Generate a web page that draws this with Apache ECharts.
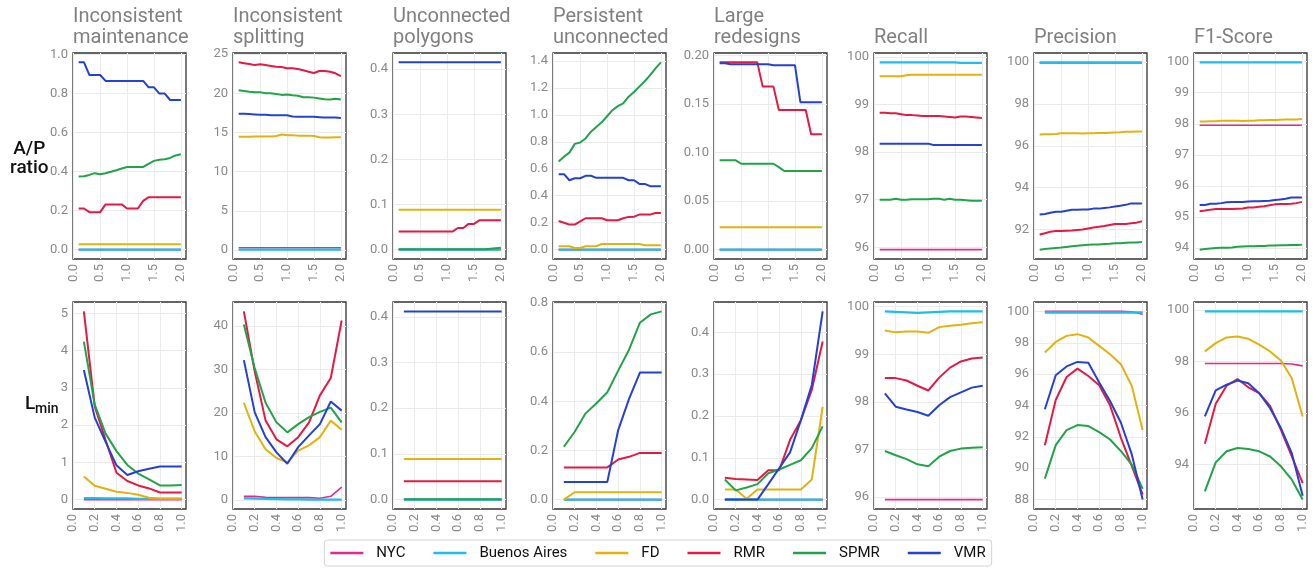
<!DOCTYPE html>
<html>
<head>
<meta charset="utf-8">
<script src="https://cdn.jsdelivr.net/npm/echarts@6/dist/echarts.min.js"></script>
<style>
html, body { margin: 0; padding: 0; background: #fff; }
#chart { width: 1316px; height: 570px; }
</style>
</head>
<body>
<div id="chart"></div>
<script>
// series order: NYC, Buenos Aires, FD, RMR, SPMR, VMR
var methods = ['NYC', 'Buenos Aires', 'FD', 'RMR', 'SPMR', 'VMR'];
var methodColors = ['#df2a8e', '#1dbfe9', '#e2b20e', '#e31a43', '#22a34a', '#2541d4'];

var sigmaValues = [0.1, 0.2, 0.3, 0.4, 0.5, 0.6, 0.7, 0.8, 0.9, 1.0, 1.1, 1.2, 1.3, 1.4, 1.5, 1.6, 1.7, 1.8, 1.9, 2.0];
var lminValues = [0.1, 0.2, 0.3, 0.4, 0.5, 0.6, 0.7, 0.8, 0.9, 1.0];
var sigmaTicks = ['0.0', '0.5', '1.0', '1.5', '2.0'];
var lminXTicks = ['0.0', '0.2', '0.4', '0.6', '0.8', '1.0'];

var panelTitles = ['Inconsistent\nmaintenance', 'Inconsistent\nsplitting', 'Unconnected\npolygons', 'Persistent\nunconnected',
	'Large\nredesigns', 'Recall', 'Precision', 'F1-Score'];

// A/P ratio row (x = sigmaValues)
var apMaintenance = [
	[0, 0, 0, 0, 0, 0, 0, 0, 0, 0, 0, 0, 0, 0, 0, 0, 0, 0, 0, 0],
	[0, 0, 0, 0, 0, 0, 0, 0, 0, 0, 0, 0, 0, 0, 0, 0, 0, 0, 0, 0],
	[0.027, 0.027, 0.027, 0.027, 0.027, 0.027, 0.027, 0.027, 0.027, 0.027, 0.027, 0.027, 0.027, 0.027, 0.027, 0.027, 0.027, 0.027, 0.027, 0.027],
	[0.211, 0.211, 0.192, 0.192, 0.192, 0.232, 0.232, 0.232, 0.232, 0.211, 0.211, 0.211, 0.25, 0.269, 0.269, 0.269, 0.269, 0.269, 0.269, 0.269],
	[0.375, 0.376, 0.383, 0.392, 0.387, 0.392, 0.399, 0.407, 0.416, 0.424, 0.424, 0.424, 0.424, 0.44, 0.455, 0.461, 0.463, 0.47, 0.483, 0.489],
	[0.96, 0.96, 0.895, 0.895, 0.895, 0.865, 0.865, 0.865, 0.865, 0.865, 0.865, 0.865, 0.865, 0.832, 0.832, 0.80, 0.80, 0.767, 0.767, 0.767]
];
var apSplitting = [
	[0.3, 0.3, 0.3, 0.3, 0.3, 0.3, 0.3, 0.3, 0.3, 0.3, 0.3, 0.3, 0.3, 0.3, 0.3, 0.3, 0.3, 0.3, 0.3, 0.3],
	[0.05, 0.05, 0.05, 0.05, 0.05, 0.05, 0.05, 0.05, 0.05, 0.05, 0.05, 0.05, 0.05, 0.05, 0.05, 0.05, 0.05, 0.05, 0.05, 0.05],
	[14.45, 14.45, 14.45, 14.5, 14.5, 14.5, 14.5, 14.55, 14.75, 14.65, 14.65, 14.6, 14.6, 14.6, 14.55, 14.4, 14.35, 14.35, 14.4, 14.4],
	[23.95, 23.85, 23.75, 23.6, 23.7, 23.6, 23.5, 23.4, 23.35, 23.2, 23.2, 23.1, 22.95, 22.75, 22.6, 22.85, 22.85, 22.75, 22.55, 22.2],
	[20.4, 20.3, 20.2, 20.15, 20.15, 20.0, 20.0, 19.9, 19.8, 19.85, 19.75, 19.7, 19.5, 19.5, 19.45, 19.35, 19.25, 19.2, 19.3, 19.2],
	[17.4, 17.4, 17.35, 17.3, 17.25, 17.25, 17.2, 17.2, 17.2, 17.2, 17.05, 17.0, 17.0, 17.0, 17.0, 16.95, 16.9, 16.9, 16.9, 16.85]
];
var apUnconnected = [
	[0, 0, 0, 0, 0, 0, 0, 0, 0, 0, 0, 0, 0, 0, 0, 0, 0, 0, 0, 0],
	[0, 0, 0, 0, 0, 0, 0, 0, 0, 0, 0, 0, 0, 0, 0, 0, 0, 0, 0, 0],
	[0.0885, 0.0885, 0.0885, 0.0885, 0.0885, 0.0885, 0.0885, 0.0885, 0.0885, 0.0885, 0.0885, 0.0885, 0.0885, 0.0885, 0.0885, 0.0885, 0.0885, 0.0885, 0.0885, 0.0885],
	[0.04, 0.04, 0.04, 0.04, 0.04, 0.04, 0.04, 0.04, 0.04, 0.04, 0.04, 0.048, 0.048, 0.057, 0.057, 0.065, 0.065, 0.065, 0.065, 0.065],
	[0.001, 0.001, 0.001, 0.001, 0.001, 0.001, 0.001, 0.001, 0.001, 0.001, 0.001, 0.001, 0.001, 0.001, 0.001, 0.001, 0.001, 0.002, 0.003, 0.004],
	[0.415, 0.415, 0.415, 0.415, 0.415, 0.415, 0.415, 0.415, 0.415, 0.415, 0.415, 0.415, 0.415, 0.415, 0.415, 0.415, 0.415, 0.415, 0.415, 0.415]
];
var apPersistent = [
	[0, 0, 0, 0, 0, 0, 0, 0, 0, 0, 0, 0, 0, 0, 0, 0, 0, 0, 0, 0],
	[0, 0, 0, 0, 0, 0, 0, 0, 0, 0, 0, 0, 0, 0, 0, 0, 0, 0, 0, 0],
	[0.025, 0.025, 0.025, 0.012, 0.012, 0.025, 0.025, 0.025, 0.042, 0.042, 0.042, 0.042, 0.042, 0.042, 0.042, 0.042, 0.032, 0.032, 0.032, 0.032],
	[0.213, 0.2, 0.186, 0.186, 0.21, 0.233, 0.233, 0.233, 0.233, 0.218, 0.218, 0.218, 0.233, 0.243, 0.245, 0.26, 0.26, 0.26, 0.272, 0.272],
	[0.655, 0.69, 0.72, 0.785, 0.795, 0.825, 0.875, 0.91, 0.945, 0.99, 1.035, 1.065, 1.085, 1.135, 1.17, 1.21, 1.25, 1.295, 1.345, 1.39],
	[0.56, 0.56, 0.515, 0.53, 0.53, 0.548, 0.548, 0.533, 0.533, 0.533, 0.533, 0.533, 0.533, 0.515, 0.515, 0.488, 0.488, 0.471, 0.471, 0.471]
];
var apLarge = [
	[0, 0, 0, 0, 0, 0, 0, 0, 0, 0, 0, 0, 0, 0, 0, 0, 0, 0, 0, 0],
	[0, 0, 0, 0, 0, 0, 0, 0, 0, 0, 0, 0, 0, 0, 0, 0, 0, 0, 0, 0],
	[0.023, 0.023, 0.023, 0.023, 0.023, 0.023, 0.023, 0.023, 0.023, 0.023, 0.023, 0.023, 0.023, 0.023, 0.023, 0.023, 0.023, 0.023, 0.023, 0.023],
	[0.193, 0.193, 0.193, 0.193, 0.193, 0.193, 0.193, 0.193, 0.168, 0.168, 0.168, 0.144, 0.144, 0.144, 0.144, 0.144, 0.144, 0.119, 0.119, 0.119],
	[0.092, 0.092, 0.092, 0.092, 0.0885, 0.0885, 0.0885, 0.0885, 0.0885, 0.0885, 0.0885, 0.085, 0.081, 0.081, 0.081, 0.081, 0.081, 0.081, 0.081, 0.081],
	[0.192, 0.192, 0.191, 0.191, 0.191, 0.191, 0.191, 0.191, 0.191, 0.191, 0.19, 0.19, 0.19, 0.19, 0.19, 0.152, 0.152, 0.152, 0.152, 0.152]
];
var apRecall = [
	[95.95, 95.95, 95.95, 95.95, 95.95, 95.95, 95.95, 95.95, 95.95, 95.95, 95.95, 95.95, 95.95, 95.95, 95.95, 95.95, 95.95, 95.95, 95.95, 95.95],
	[99.89, 99.89, 99.89, 99.89, 99.89, 99.89, 99.89, 99.89, 99.89, 99.89, 99.89, 99.89, 99.89, 99.89, 99.89, 99.88, 99.88, 99.88, 99.88, 99.88],
	[99.6, 99.6, 99.6, 99.6, 99.6, 99.62, 99.63, 99.63, 99.63, 99.63, 99.63, 99.63, 99.63, 99.63, 99.63, 99.63, 99.63, 99.63, 99.63, 99.63],
	[98.83, 98.83, 98.82, 98.82, 98.8, 98.78, 98.78, 98.77, 98.76, 98.76, 98.76, 98.76, 98.75, 98.74, 98.73, 98.75, 98.75, 98.74, 98.73, 98.72],
	[97.0, 97.0, 97.0, 97.02, 97.0, 97.0, 97.01, 97.01, 97.01, 97.01, 97.02, 97.02, 97.0, 97.02, 97.0, 97.0, 96.99, 96.98, 96.98, 96.98],
	[98.18, 98.18, 98.18, 98.18, 98.18, 98.18, 98.18, 98.18, 98.18, 98.18, 98.15, 98.15, 98.15, 98.15, 98.15, 98.15, 98.15, 98.15, 98.15, 98.15]
];
var apPrecision = [
	[99.99, 99.99, 99.99, 99.99, 99.99, 99.99, 99.99, 99.99, 99.99, 99.99, 99.99, 99.99, 99.99, 99.99, 99.99, 99.99, 99.99, 99.99, 99.99, 99.99],
	[99.97, 99.97, 99.97, 99.97, 99.97, 99.97, 99.97, 99.97, 99.97, 99.97, 99.97, 99.97, 99.97, 99.97, 99.97, 99.97, 99.97, 99.97, 99.97, 99.97],
	[96.54, 96.55, 96.56, 96.57, 96.6, 96.6, 96.6, 96.6, 96.59, 96.6, 96.6, 96.61, 96.62, 96.63, 96.64, 96.65, 96.67, 96.67, 96.68, 96.69],
	[91.76, 91.82, 91.9, 91.93, 91.93, 91.94, 91.95, 91.98, 92.0, 92.05, 92.1, 92.13, 92.17, 92.22, 92.27, 92.27, 92.27, 92.3, 92.33, 92.4],
	[91.04, 91.07, 91.1, 91.12, 91.14, 91.17, 91.2, 91.23, 91.25, 91.27, 91.28, 91.28, 91.31, 91.32, 91.34, 91.35, 91.37, 91.38, 91.38, 91.4],
	[92.72, 92.74, 92.8, 92.85, 92.85, 92.9, 92.95, 92.95, 92.96, 92.96, 93.0, 93.0, 93.03, 93.06, 93.1, 93.14, 93.18, 93.25, 93.25, 93.25]
];
var apF1 = [
	[97.95, 97.95, 97.95, 97.95, 97.95, 97.95, 97.95, 97.95, 97.95, 97.95, 97.95, 97.95, 97.95, 97.95, 97.95, 97.95, 97.95, 97.95, 97.95, 97.95],
	[99.98, 99.98, 99.98, 99.98, 99.98, 99.98, 99.98, 99.98, 99.98, 99.98, 99.98, 99.98, 99.98, 99.98, 99.98, 99.98, 99.98, 99.98, 99.98, 99.98],
	[98.07, 98.07, 98.08, 98.08, 98.1, 98.1, 98.1, 98.1, 98.09, 98.1, 98.1, 98.11, 98.11, 98.12, 98.12, 98.13, 98.14, 98.14, 98.14, 98.15],
	[95.18, 95.2, 95.23, 95.25, 95.25, 95.25, 95.25, 95.26, 95.27, 95.3, 95.3, 95.32, 95.34, 95.37, 95.4, 95.41, 95.41, 95.42, 95.44, 95.48],
	[93.94, 93.96, 93.98, 93.99, 94.0, 94.0, 94.01, 94.03, 94.04, 94.05, 94.05, 94.06, 94.06, 94.07, 94.07, 94.08, 94.08, 94.09, 94.09, 94.1],
	[95.38, 95.38, 95.42, 95.42, 95.44, 95.47, 95.48, 95.48, 95.48, 95.49, 95.5, 95.5, 95.51, 95.52, 95.54, 95.56, 95.58, 95.62, 95.62, 95.62]
];

// L_min row (x = lminValues)
var lminMaintenance = [
	[0, 0, 0, 0, 0, 0, 0, 0, 0, 0],
	[0.04, 0.04, 0.03, 0.03, 0.03, 0.02, 0.02, 0.02, 0.02, 0.02],
	[0.62, 0.37, 0.29, 0.21, 0.18, 0.13, 0.05, 0.03, 0.03, 0.03],
	[5.05, 2.5, 1.6, 0.72, 0.5, 0.38, 0.3, 0.19, 0.19, 0.19],
	[4.24, 2.55, 1.77, 1.3, 0.93, 0.7, 0.54, 0.38, 0.38, 0.39],
	[3.48, 2.2, 1.55, 0.92, 0.66, 0.76, 0.83, 0.89, 0.89, 0.89]
];
var lminSplitting = [
	[0.8, 0.8, 0.55, 0.5, 0.5, 0.5, 0.5, 0.35, 0.8, 2.9],
	[0.35, 0.3, 0.2, 0.15, 0.1, 0.1, 0.05, 0.05, 0.05, 0.05],
	[22.3, 15.7, 11.6, 9.6, 8.6, 11.3, 12.5, 14.4, 18.2, 16.1],
	[43.3, 29.5, 18.2, 13.9, 12.3, 14.4, 17.8, 24.0, 28.0, 41.2],
	[40.3, 30.2, 22.3, 17.8, 15.5, 17.4, 19.0, 20.2, 21.2, 17.8],
	[32.1, 20.1, 14.4, 10.9, 8.3, 12.1, 14.8, 17.4, 22.6, 20.5]
];
var lminUnconnected = [
	[0, 0, 0, 0, 0, 0, 0, 0, 0, 0],
	[0, 0, 0, 0, 0, 0, 0, 0, 0, 0],
	[0.089, 0.089, 0.089, 0.089, 0.089, 0.089, 0.089, 0.089, 0.089, 0.089],
	[0.04, 0.04, 0.04, 0.04, 0.04, 0.04, 0.04, 0.04, 0.04, 0.04],
	[0.001, 0.001, 0.001, 0.001, 0.001, 0.001, 0.001, 0.001, 0.001, 0.001],
	[0.412, 0.412, 0.412, 0.412, 0.412, 0.412, 0.412, 0.412, 0.412, 0.412]
];
var lminPersistent = [
	[0, 0, 0, 0, 0, 0, 0, 0, 0, 0],
	[0, 0, 0, 0, 0, 0, 0, 0, 0, 0],
	[0, 0.03, 0.03, 0.03, 0.03, 0.03, 0.03, 0.03, 0.03, 0.03],
	[0.131, 0.131, 0.131, 0.131, 0.131, 0.163, 0.174, 0.19, 0.19, 0.19],
	[0.215, 0.276, 0.351, 0.392, 0.437, 0.525, 0.61, 0.72, 0.754, 0.766],
	[0.072, 0.072, 0.072, 0.072, 0.072, 0.283, 0.41, 0.517, 0.517, 0.517]
];
var lminLarge = [
	[0, 0, 0, 0, 0, 0, 0, 0, 0, 0],
	[0, 0, 0, 0, 0, 0, 0, 0, 0, 0],
	[0.024, 0.024, 0.002, 0.024, 0.024, 0.024, 0.024, 0.024, 0.048, 0.222],
	[0.052, 0.049, 0.048, 0.047, 0.07, 0.07, 0.143, 0.19, 0.262, 0.378],
	[0.048, 0.022, 0.029, 0.037, 0.063, 0.072, 0.083, 0.094, 0.123, 0.175],
	[0, 0, 0, 0, 0.037, 0.075, 0.113, 0.19, 0.274, 0.45]
];
var lminRecall = [
	[95.95, 95.95, 95.95, 95.95, 95.95, 95.95, 95.95, 95.95, 95.95, 95.95],
	[99.9, 99.89, 99.88, 99.87, 99.88, 99.89, 99.9, 99.9, 99.9, 99.9],
	[99.5, 99.46, 99.48, 99.48, 99.45, 99.57, 99.6, 99.62, 99.65, 99.67],
	[98.5, 98.5, 98.45, 98.34, 98.24, 98.51, 98.72, 98.85, 98.91, 98.93],
	[96.97, 96.88, 96.8, 96.69, 96.65, 96.85, 96.97, 97.02, 97.04, 97.05],
	[98.18, 97.9, 97.84, 97.79, 97.71, 97.93, 98.1, 98.2, 98.3, 98.34]
];
var lminPrecision = [
	[100, 100, 100, 100, 100, 100, 100, 100, 99.98, 99.82],
	[99.93, 99.93, 99.93, 99.93, 99.93, 99.93, 99.93, 99.93, 99.93, 99.93],
	[97.38, 98.05, 98.44, 98.55, 98.34, 97.8, 97.27, 96.63, 95.25, 92.43],
	[91.47, 94.35, 95.82, 96.35, 95.88, 95.29, 94.01, 91.94, 90.13, 88.32],
	[89.34, 91.47, 92.43, 92.75, 92.69, 92.3, 91.83, 91.09, 90.23, 88.68],
	[93.76, 95.93, 96.49, 96.78, 96.72, 95.46, 94.29, 92.9, 90.88, 88.0]
];
var lminF1 = [
	[97.92, 97.92, 97.92, 97.92, 97.92, 97.92, 97.92, 97.92, 97.9, 97.83],
	[99.94, 99.94, 99.94, 99.94, 99.94, 99.94, 99.94, 99.94, 99.94, 99.94],
	[98.39, 98.71, 98.93, 98.97, 98.88, 98.65, 98.39, 98.04, 97.35, 95.87],
	[94.81, 96.36, 97.06, 97.32, 97.0, 96.77, 96.28, 95.35, 94.32, 93.29],
	[92.97, 94.09, 94.52, 94.65, 94.61, 94.52, 94.32, 93.94, 93.42, 92.65],
	[95.87, 96.88, 97.1, 97.26, 97.16, 96.77, 96.19, 95.42, 94.45, 92.8]
];

// y tick labels per panel
var apTicks = [
	['0.0', '0.2', '0.4', '0.6', '0.8', '1.0'],
	['0', '5', '10', '15', '20', '25'],
	['0.0', '0.1', '0.2', '0.3', '0.4'],
	['0.0', '0.2', '0.4', '0.6', '0.8', '1.0', '1.2', '1.4'],
	['0.00', '0.05', '0.10', '0.15', '0.20'],
	['96', '97', '98', '99', '100'],
	['92', '94', '96', '98', '100'],
	['94', '95', '96', '97', '98', '99', '100']
];
var lminTicks = [
	['0', '1', '2', '3', '4', '5'],
	['0', '10', '20', '30', '40'],
	['0.0', '0.1', '0.2', '0.3', '0.4'],
	['0.0', '0.2', '0.4', '0.6', '0.8'],
	['0.0', '0.1', '0.2', '0.3', '0.4'],
	['96', '97', '98', '99', '100'],
	['88', '90', '92', '94', '96', '98', '100'],
	['94', '96', '98', '100']
];

var rows = [
	{ panels: [apMaintenance, apSplitting, apUnconnected, apPersistent, apLarge, apRecall, apPrecision, apF1],
	  yTicks: apTicks, x: sigmaValues, xTicks: sigmaTicks, xMin: -0.005, xMax: 2.095, top: 53, height: 206 },
	{ panels: [lminMaintenance, lminSplitting, lminUnconnected, lminPersistent, lminLarge, lminRecall, lminPrecision, lminF1],
	  yTicks: lminTicks, x: lminValues, xTicks: lminXTicks, xMin: 0, xMax: 1.04, top: 302, height: 207 }
];

var labelColor = '#8a8a8a';
var fontFamily = 'Roboto, "Noto Sans", sans-serif';
var lineWidths = [1.6, 2.3, 2, 2, 2, 2];

function labelFormatter(labels) {
	var vals = labels.map(Number);
	return function(v) {
		for (var i = 0; i < vals.length; i++) {
			if (Math.abs(vals[i] - v) < 1e-9) return labels[i];
		}
		return '';
	};
}

var grids = [], xAxes = [], yAxes = [], series = [], titles = [];

rows.forEach(function(row, r) {
	row.panels.forEach(function(panel, c) {
		var idx = r * 8 + c;
		var left = 73 + Math.round(160.15 * c);
		grids.push({
			left: left, top: row.top, width: 113, height: row.height,
			show: true, borderColor: '#333', borderWidth: 1.3, backgroundColor: 'transparent',
			containLabel: false, outerBoundsMode: 'none'
		});

		// ggplot-style 5% expansion around the data
		var all = [].concat.apply([], panel);
		var lo = Math.min.apply(null, all), hi = Math.max.apply(null, all);
		var pad = (hi - lo) * 0.05;
		var yVals = row.yTicks[c].map(Number);
		var xVals = row.xTicks.map(Number);

		xAxes.push({
			type: 'value', gridIndex: idx, min: row.xMin, max: row.xMax,
			axisLine: { show: false },
			axisTick: { show: false, customValues: xVals },
			axisLabel: {
				customValues: xVals, rotate: 90, margin: 5, fontSize: 13,
				color: labelColor, fontFamily: fontFamily,
				formatter: labelFormatter(row.xTicks)
			},
			splitLine: { show: true, lineStyle: { color: '#ebebeb', width: 1 } }
		});
		yAxes.push({
			type: 'value', gridIndex: idx, min: lo - pad, max: hi + pad,
			axisLine: { show: false },
			axisTick: { show: false, customValues: yVals },
			axisLabel: {
				customValues: yVals, margin: 5, fontSize: 13,
				color: labelColor, fontFamily: fontFamily,
				formatter: labelFormatter(row.yTicks[c])
			},
			splitLine: { show: true, lineStyle: { color: '#ebebeb', width: 1 } }
		});

		panel.forEach(function(vals, m) {
			series.push({
				name: methods[m], type: 'line',
				xAxisIndex: idx, yAxisIndex: idx,
				data: row.x.map(function(xv, i) { return [xv, vals[i]]; }),
				symbol: 'none', silent: true,
				lineStyle: { width: lineWidths[m], color: methodColors[m] },
				itemStyle: { color: methodColors[m] }
			});
		});

		if (r === 0) {
			var twoLine = panelTitles[c].indexOf('\n') >= 0;
			titles.push({
				text: panelTitles[c], left: left, top: twoLine ? 6 : 27, padding: 0,
				textStyle: { fontSize: 20, fontWeight: 'normal', color: '#808080', lineHeight: 21, fontFamily: fontFamily }
			});
		}
	});
});

var chart = echarts.init(document.getElementById('chart'));
chart.setOption({
	animation: false,
	backgroundColor: '#fff',
	title: titles,
	grid: grids,
	xAxis: xAxes,
	yAxis: yAxes,
	series: series,
	legend: {
		data: methods, left: 'center', top: 540,
		icon: 'rect', itemWidth: 33, itemHeight: 2.5, itemGap: 28,
		borderColor: '#d3d3d3', borderWidth: 1, borderRadius: 3, padding: [5, 6],
		textStyle: { fontSize: 15, color: '#111', fontFamily: fontFamily, padding: [0, 0, 0, 8], lineHeight: 16 }
	},
	graphic: [
		{ type: 'text', left: 10, top: 140, style: { text: 'A/P\nratio', fill: '#111', font: '500 19px ' + fontFamily, textAlign: 'center', lineHeight: 19 } },
		{ type: 'text', left: 25, top: 395, style: { text: 'L', fill: '#111', font: '500 19px ' + fontFamily } },
		{ type: 'text', left: 35, top: 402, style: { text: 'min', fill: '#111', font: '500 14px ' + fontFamily } }
	]
});
</script>
</body>
</html>
